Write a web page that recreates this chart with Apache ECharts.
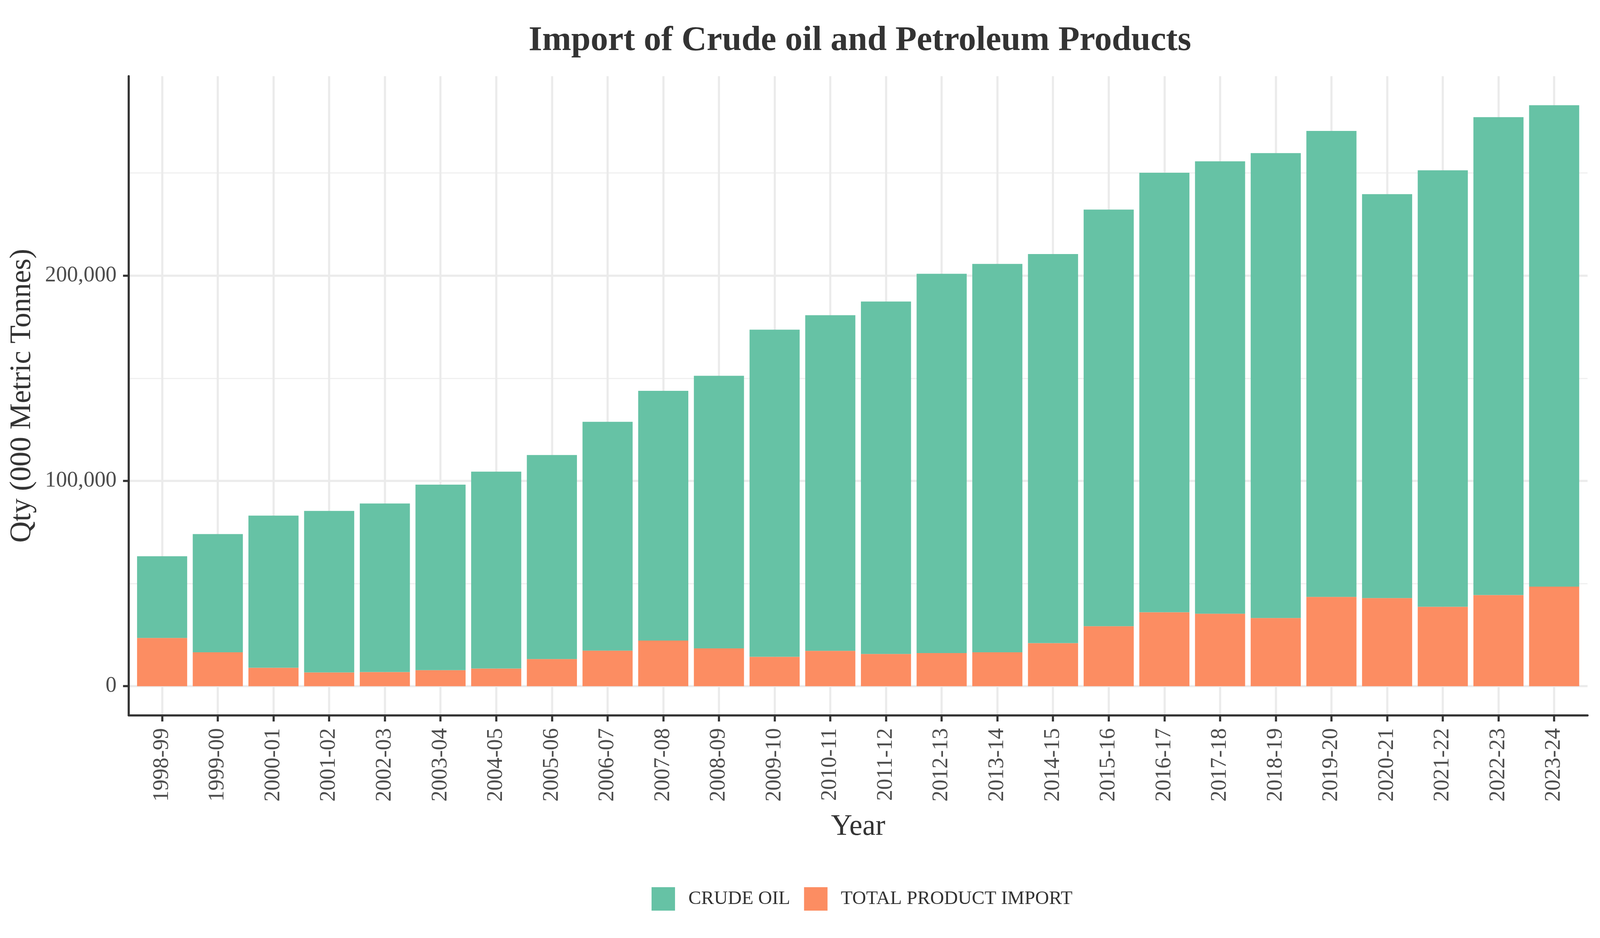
<!DOCTYPE html>
<html>
<head>
	<meta charset="utf-8">
	<title>Import of Crude oil and Petroleum Products</title>
	<script src="https://cdn.jsdelivr.net/npm/echarts@6/dist/echarts.min.js"></script>
	<style>
		html, body { margin: 0; padding: 0; background: #fff; overflow: hidden; }
		#chart { width: 100vw; height: 100vh; }
	</style>
</head>
<body>
	<div id="chart"></div>
<script type="text/javascript">
	// financial years on the x axis
	var years = ['1998-99', '1999-00', '2000-01', '2001-02', '2002-03', '2003-04', '2004-05',
		'2005-06', '2006-07', '2007-08', '2008-09', '2009-10', '2010-11', '2011-12', '2012-13',
		'2013-14', '2014-15', '2015-16', '2016-17', '2017-18', '2018-19', '2019-20', '2020-21',
		'2021-22', '2022-23', '2023-24'];

	// qty in 000 metric tonnes
	var crudeOil = [39800, 57600, 74100, 78700, 82100, 90400, 95900, 99400, 111500, 121700,
		132800, 159400, 163500, 171700, 184800, 189200, 189500, 203000, 214100, 220400,
		226500, 227000, 196800, 212600, 232800, 234500];
	var productImport = [23500, 16500, 9000, 6700, 6900, 7800, 8600, 13200, 17300, 22200,
		18400, 14300, 17200, 15700, 16100, 16500, 21000, 29200, 36000, 35300,
		33200, 43500, 42900, 38700, 44400, 48500];

	var yTicks = [0, 100000, 200000];

	var FONT = 'Liberation Serif';
	var GRID = '#ebebeb';
	var AXIS = '#333333';

	var chart = echarts.init(document.getElementById('chart'), null, {renderer: 'canvas'});

	// layout was measured on a 4500x2400 page, scale it to whatever we got
	var W = chart.getWidth(), H = chart.getHeight();
	function X(v){ return v * W / 4500; }
	function Y(v){ return v * H / 2400; }

	// ggplot style padding : 5% on y, 0.6 of a bar slot on x
	var totals = crudeOil.map(function(v, i){ return v + productImport[i]; });
	var yPad = Math.max.apply(null, totals) * 0.05;
	var xIdx = years.map(function(y, i){ return i; });

	// value first so the stack goes on y
	function pairs(arr){
		return arr.map(function(v, i){ return [v, i]; });
	}

	chart.setOption({
		animation: false,
		backgroundColor: '#ffffff',
		textStyle: { fontFamily: FONT },
		title: {
			text: 'Import of Crude oil and Petroleum Products',
			left: X(2413),
			top: Y(55),
			textAlign: 'center',
			textStyle: { fontFamily: FONT, fontWeight: 'bold', fontSize: X(98), color: '#333333' }
		},
		legend: {
			data: ['CRUDE OIL', 'TOTAL PRODUCT IMPORT'],
			left: X(1827),
			top: Y(2265),
			icon: 'rect',
			itemWidth: X(66),
			itemHeight: X(66),
			itemGap: X(39),
			textStyle: { fontFamily: FONT, fontSize: X(54), color: '#333333', padding: [0, 0, 0, X(32)] }
		},
		grid: { left: X(362), right: X(35), top: Y(195), bottom: Y(570) },
		xAxis: {
			type: 'value',
			min: -0.6,
			max: years.length - 0.4,
			name: 'Year',
			nameLocation: 'middle',
			nameGap: Y(248),
			nameTextStyle: { fontFamily: FONT, fontSize: X(83), color: '#333333' },
			axisLine: { show: true, onZero: false, lineStyle: { color: AXIS, width: X(6) } },
			axisTick: { show: true, length: Y(16), customValues: xIdx, lineStyle: { color: AXIS, width: X(6) } },
			axisLabel: {
				customValues: xIdx,
				rotate: 90,
				margin: Y(33),
				fontFamily: FONT,
				fontSize: X(62),
				color: '#4d4d4d',
				formatter: function(v){ return years[Math.round(v)]; }
			},
			splitLine: { show: true, lineStyle: { color: GRID, width: X(6) } }
		},
		yAxis: {
			type: 'value',
			min: -yPad,
			max: Math.max.apply(null, totals) + yPad,
			splitNumber: 3,
			name: 'Qty (000 Metric Tonnes)',
			nameLocation: 'middle',
			nameRotate: 90,
			nameGap: X(257),
			nameTextStyle: { fontFamily: FONT, fontSize: X(83), color: '#333333' },
			axisLine: { show: true, onZero: false, lineStyle: { color: AXIS, width: X(6) } },
			axisTick: { show: true, length: X(16), customValues: yTicks, lineStyle: { color: AXIS, width: X(6) } },
			axisLabel: {
				customValues: yTicks,
				margin: X(34),
				fontFamily: FONT,
				fontSize: X(62),
				color: '#4d4d4d',
				formatter: function(v){ return v.toLocaleString('en-US'); }
			},
			splitLine: { show: true, lineStyle: { color: GRID, width: X(6) } },
			minorTick: { show: false, splitNumber: 2 },
			minorSplitLine: { show: true, lineStyle: { color: '#f0f0f0', width: X(3.5) } }
		},
		series: [
			{
				name: 'TOTAL PRODUCT IMPORT',
				type: 'bar',
				stack: 'qty',
				barWidth: '90%',
				encode: { x: 1, y: 0 },
				itemStyle: { color: '#fc8d62' },
				data: pairs(productImport)
			},
			{
				name: 'CRUDE OIL',
				type: 'bar',
				stack: 'qty',
				barWidth: '90%',
				encode: { x: 1, y: 0 },
				itemStyle: { color: '#66c2a5' },
				data: pairs(crudeOil)
			}
		]
	});
</script>
</body>
</html>
